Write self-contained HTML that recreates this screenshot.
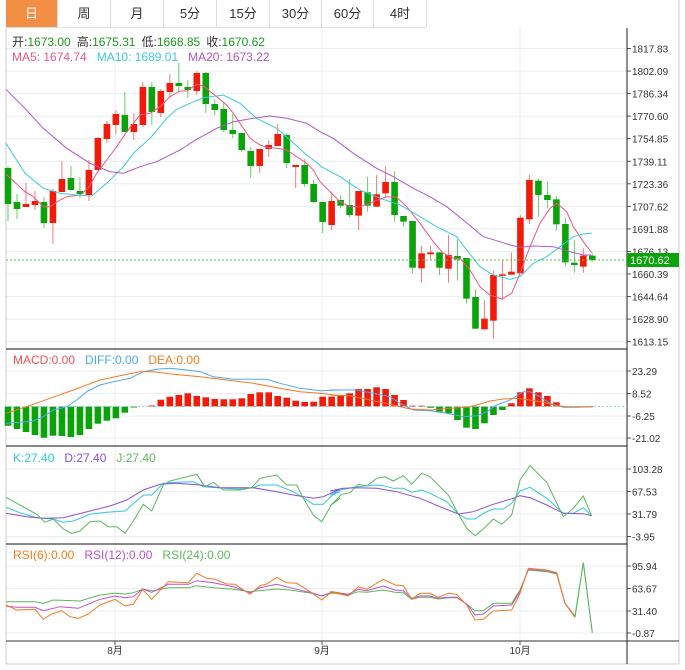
<!DOCTYPE html>
<html><head><meta charset="utf-8">
<style>
body{margin:0;background:#fff;font-family:"Liberation Sans","Noto Sans CJK SC",sans-serif;}
#w{position:relative;width:685px;height:670px;overflow:hidden;}
.tabs{position:absolute;left:6px;top:0;height:27px;width:420px;border-bottom:1px solid #ddd;}
.tab{position:absolute;top:0;height:27px;line-height:27px;text-align:center;font-size:13px;color:#333;border-right:1px solid #ddd;}
</style></head><body><div id="w">
<div class="tabs">
<div class="tab" style="left:0;width:51px;background:#f38f45;color:#fff">日</div>
<div class="tab" style="left:52px;width:52px">周</div>
<div class="tab" style="left:105px;width:52px">月</div>
<div class="tab" style="left:158px;width:52px">5分</div>
<div class="tab" style="left:211px;width:52px">15分</div>
<div class="tab" style="left:264px;width:51px">30分</div>
<div class="tab" style="left:316px;width:51px">60分</div>
<div class="tab" style="left:368px;width:52px">4时</div>
</div>
<svg id="s" width="685" height="670" style="position:absolute;left:0;top:0" font-family="Liberation Sans, Noto Sans CJK SC, sans-serif"></svg>
</div>
<script>
const S=document.getElementById('s');let h='';
function L(x1,y1,x2,y2,c,w,d){h+=`<line x1="${x1}" y1="${y1}" x2="${x2}" y2="${y2}" stroke="${c}" stroke-width="${w||1}" ${d?'stroke-dasharray="'+d+'"':''}/>`;}
function T(x,y,t,c,s,a){h+=`<text x="${x}" y="${y}" fill="${c}" font-size="${s||11}" ${a?'text-anchor="'+a+'"':''}>${t}</text>`;}
function P(pts,c,w){h+=`<polyline points="${pts.map(p=>p[0].toFixed(1)+','+p[1].toFixed(1)).join(' ')}" fill="none" stroke="${c}" stroke-width="${w||1}"/>`;}
function Z(a,ox,oy){const r=[];for(let i=0;i<a.length;i+=2)r.push([ox+a[i]/3,oy+a[i+1]/3]);return r;}
const G='#e8eef2';
// grids main
const mt=[1817.83,1802.09,1786.34,1770.60,1754.85,1739.11,1723.36,1707.62,1691.88,1676.13,1660.39,1644.64,1628.90,1613.15];
mt.forEach((v,i)=>{const y=48.5+i*22.55;L(6,y,627,y,G);L(627,y,631,y,'#555');T(632,y+4,v.toFixed(2),'#333',10);});
[[23.29,371],[8.52,393.5],[-6.25,416],[-21.02,438]].forEach(a=>{L(6,a[1],627,a[1],G);L(627,a[1],631,a[1],'#555');T(632,a[1]+4,a[0].toFixed(2),'#333',10);});
[[103.28,469],[67.53,491.5],[31.79,514],[-3.95,536.5]].forEach(a=>{L(6,a[1],627,a[1],G);L(627,a[1],631,a[1],'#555');T(632,a[1]+4,a[0].toFixed(2),'#333',10);});
[[95.94,566],[63.67,588.5],[31.40,611],[-0.87,633]].forEach(a=>{L(6,a[1],627,a[1],G);L(627,a[1],631,a[1],'#555');T(632,a[1]+4,a[0].toFixed(2),'#333',10);});
[115,322,520].forEach(x=>L(x,28,x,641,G));
// borders
L(6,28,6,664,'#ccc');L(679,0,679,664,'#ccc');L(6,664,679,664,'#ccc');
L(627,28,627,664,'#222');
L(6,349,627,349,'#111');L(6,446,627,446,'#111');L(6,544,627,544,'#111');L(6,641,679,641,'#333');
[115,322,520].forEach(x=>L(x,641,x,645,'#555'));
T(115,654,'8月','#333',10,'middle');T(322,654,'9月','#333',10,'middle');T(520,654,'10月','#333',10,'middle');
// candles
const R='#f21a08',GR='#0aa30a';
const c1=[[168,204,166,221,0],[202,209,194,219,0],[204,207,183,207,1],[201,205,191,210,1],[202,223,197,228,0],[191,223,189,244,1],[179,192,161,192,1],[178,190,166,190,0],[191,194,177,198,0],[170,195,160,201,1],[138,170,137,170,1],[124,139,121,143,1],[114,125,110,134,1],[115,132,92,132,0],[124,132,113,140,1],[87,125,82,127,1],[87,112,82,125,0],[91,113,89,117,1],[83,92,74,98,1],[83,86,63,92,0],[87,90,80,98,0],[73,91,71,95,1],[73,104,72,113,0],[104,110,99,115,0],[109,130,102,132,0],[130,134,114,138,0],[133,150,133,152,0],[151,166,147,178,0],[149,166,149,173,1],[145,149,140,157,1],[134,146,124,146,1],[135,163,133,168,0],[165,167,165,188,1],[165,184,159,187,0],[184,202,180,203,0],[202,222,202,233,0]];
const c2=[[423,495,395,510,1],[420,437,405,445,0],[435,465,358,472,0],[393,467,393,510,1],[397,437,350,455,0],[403,440,345,440,1],[366,400,320,413,1],[366,465,335,485,0],[468,485,468,500,0],[483,623,483,640,0],[580,625,558,668,1],[577,583,557,600,1],[577,623,577,645,0],[585,626,525,668,1],[588,598,538,662,0],[594,716,594,730,0],[711,806,688,808,0],[776,808,720,808,1],[645,782,632,836,1],[643,647,600,720,1],[635,644,578,644,1],[473,640,465,640,1],[360,478,345,492,1],[362,405,355,470,0],[405,420,363,445,0],[418,493,408,512,0],[492,607,473,618,0],[608,615,540,638,0],[587,620,565,638,1],[587,600,580,605,0]].map(a=>[60+a[0]/3,60+a[1]/3,60+a[2]/3,60+a[3]/3,a[4]]);
const C=c1.concat(c2);
C.forEach((c,i)=>{const x=8+i*8.99;const col=c[4]?R:GR;L(x,c[2],x,c[3],c[4]?'#f77':'#6c6');h+=`<rect x="${x-3.3}" y="${c[0]}" width="6.6" height="${Math.max(1.5,c[1]-c[0])}" fill="${col}"/>`;});
// MAs
P(Z([18,342,75,395,100,410,130,440,150,440,180,420,200,410,240,405,265,385,290,340,320,300,350,260,380,215,420,165,450,160,480,140,510,110,540,93,560,93,590,73,610,78,650,110,680,135,700,160,720,190,750,235,780,255,800,262,830,265,860,270,890,290,920,310,940,330,960,365],0,60).concat(Z([0,365,30,395,60,425,90,440,120,440,160,425,200,410,230,412,260,440,300,490,340,545,370,580,400,595,420,595,450,630,480,680,510,705,545,717,575,700,600,640,630,560,660,490,690,445,710,430,740,455,760,500,790,545,815,578],320,60)),'#f0557f');
P(Z([18,250,75,340,130,385,180,400,230,405,275,408,320,370,370,320,400,280,450,235,500,175,530,148,570,130,610,113,670,105,720,130,770,175,830,205,870,240,920,285,960,315],0,60).concat(Z([0,318,60,350,120,390,180,415,240,435,300,470,350,500,410,530,440,570,480,620,520,645,570,658,600,650,640,610,680,590,720,560,760,530,790,522,815,520],320,60)),'#3cc8e0');
P(Z([18,88,70,140,130,205,200,265,270,310,330,335,370,340,420,320,470,305,540,270,590,238,650,205,700,185,760,175,810,168,860,175,920,190,960,215],0,60).concat(Z([0,215,40,235,100,280,170,325,220,350,280,385,330,410,380,440,430,480,490,530,540,545,570,555,600,562,640,558,700,560,750,575,790,585,815,585],320,60)),'#b255c8');
L(6,260,627,260,'#4c4',1,'2,2');
h+=`<rect x="627" y="253" width="52" height="14" fill="#0aa30a"/>`;T(630,264,'1670.62','#fff',11);
// MACD bars
const mb={0:425.7,1:429,2:432,3:435,4:437.7,5:435.7,6:436,7:437,8:435,9:429,10:423.7,11:420.7,12:418.3,13:412.7,14:407.5,16:405.5,17:399.7,18:396.7,19:395,20:393.3,21:396,22:397.3,23:399,24:399.3,25:399.3,26:398.3,27:394,28:392.3,29:392.3,30:396,31:397.7,32:400.7,33:402,34:401.7,35:396.7,36:396.7,37:395.7,38:393.3,39:389,40:389,41:387.3,42:389,43:395,44:400,45:405.7,46:405.7,47:407.8,48:411.7,49:413.3,50:420,51:427.7,52:429,53:423.3,54:415,55:410,56:403.3,57:392.3,58:388.3,59:392.3,60:396,61:402.3};
const z0=406.5;
for(const k in mb){const x=8+k*8.99,y=mb[k];const col=y>z0?GR:R;h+=`<rect x="${x-3.3}" y="${Math.min(y,z0)}" width="6.6" height="${Math.max(1,Math.abs(y-z0))}" fill="${col}"/>`;}
L(6,z0,627,z0,'#9cd',1,'2,2');
P(Z([18,235,60,232,100,228,130,215,160,195,200,185,230,165,260,140,300,120,340,110,390,100,430,80,470,73,510,70,560,75,600,80,640,95,700,103,760,103,800,103,840,115,900,130,960,137,1020,135],0,345).concat(Z([0,135,80,135,130,145,180,155,210,175,250,195,300,197,350,205,400,215,440,212,470,200,500,180,540,165,580,140,600,140,630,155,660,175,700,187,740,187,790,185],330,345)),'#4aa8f0');
P(Z([18,205,80,185,150,160,220,135,300,105,360,92,420,80,460,80,520,88,600,95,680,105,760,115,840,130,900,140,960,145,1020,152],0,345).concat(Z([0,150,60,152,120,165,180,178,240,192,300,195,360,190,410,187,440,180,480,168,520,162,560,160,600,165,640,172,680,182,720,185,790,185],330,345)),'#f57a20');
// KDJ
P(Z([18,187,60,203,110,218,160,222,190,232,220,228,270,208,320,202,375,198,430,150,455,150,490,115,520,112,580,110,610,125,670,130,720,132,760,128,780,120,830,120,880,140,910,158,940,178,970,178,1000,148,1020,140],0,445).concat(Z([0,150,30,135,80,125,140,120,160,122,190,130,220,130,245,142,275,135,300,145,350,170,385,207,410,222,435,222,460,205,490,192,520,192,545,175,570,138,600,127,650,160,700,205,730,205,760,188,785,212],330,445)),'#2ec8dc');
P(Z([18,205,80,215,130,220,190,218,270,198,330,183,380,165,430,135,480,118,530,115,600,120,660,128,760,128,830,140,880,150,940,160,970,155,1020,132],0,445).concat(Z([0,138,40,130,80,128,140,130,200,140,270,160,330,185,385,207,430,200,490,178,550,160,570,152,600,158,650,180,700,205,760,206,785,212],330,445)),'#8a50d0');
P(Z([18,157,110,208,135,232,160,222,190,252,215,265,240,258,270,230,300,228,325,245,350,245,375,265,400,228,430,178,455,198,490,120,510,108,590,88,615,125,640,112,670,135,720,135,755,128,780,100,830,90,860,120,890,120,910,160,940,210,965,230,995,178,1020,160],0,445).concat(Z([0,183,35,148,60,143,85,118,110,123,140,100,165,95,190,108,220,92,245,118,275,85,300,95,355,150,385,207,410,250,435,272,460,252,490,222,515,238,545,210,570,105,600,62,650,112,700,215,730,190,760,153,785,213],330,445)),'#5cb85c');
// RSI
P(Z([18,185,105,185,130,190,160,180,240,183,300,165,345,160,375,162,400,158,428,148,460,152,505,143,565,143,590,137,640,143,700,148,750,155,830,147,870,150,935,160,965,167,995,160,1020,160],0,540).concat(Z([0,158,55,165,85,155,110,157,160,150,195,157,220,158,245,178,270,172,300,172,325,177,355,173,380,173,410,192,435,212,460,212,490,190,545,190,570,150,595,90,650,95,680,102,705,190,735,228,760,68,787,278],330,540)),'#5cb85c');
P(Z([18,198,50,202,105,202,130,212,180,200,235,205,300,178,345,168,375,173,400,170,428,147,455,157,505,133,565,133,590,122,640,128,700,140,750,158,780,143,830,133,870,143,935,158,965,168,995,157,1020,160],0,540).concat(Z([0,155,55,163,85,148,110,152,160,138,195,150,220,152,245,175,270,168,300,168,325,175,355,172,380,172,410,192,435,225,460,222,490,198,545,195,570,155,595,88,650,92,680,100,705,190,735,230],330,540)),'#c050d0');
P(Z([18,195,50,210,105,208,130,238,155,222,185,212,210,230,235,235,265,222,300,195,345,178,375,198,400,193,428,148,455,178,505,125,565,128,590,100,620,115,645,118,680,132,705,133,750,163,780,137,800,132,830,112,860,128,890,130,935,158,965,180,995,155,1020,158],0,540).concat(Z([0,155,55,168,85,140,110,148,160,118,195,135,220,137,245,178,270,160,300,160,325,172,355,160,380,163,410,195,435,240,460,238,490,213,545,210,570,160,595,85,625,88,650,90,680,98,705,190,735,232],330,540)),'#f57a20');
P(Z([735,232,760,68,787,278],330,540),'#5cb85c');
// legends
h+=`<text x="12" y="46" font-size="12"><tspan fill="#333">开:</tspan><tspan fill="#1a9a1a">1673.00</tspan><tspan fill="#333" dx="6">高:</tspan><tspan fill="#1a9a1a">1675.31</tspan><tspan fill="#333" dx="6">低:</tspan><tspan fill="#1a9a1a">1668.85</tspan><tspan fill="#333" dx="6">收:</tspan><tspan fill="#1a9a1a">1670.62</tspan></text>`;
h+=`<text x="12" y="61" font-size="12"><tspan fill="#f0557f">MA5: 1674.74</tspan><tspan fill="#3cc8e0" dx="10">MA10: 1689.01</tspan><tspan fill="#b255c8" dx="10">MA20: 1673.22</tspan></text>`;
h+=`<text x="13" y="364" font-size="12"><tspan fill="#f05050">MACD:0.00</tspan><tspan fill="#4aa8f0" dx="10">DIFF:0.00</tspan><tspan fill="#f57a20" dx="10">DEA:0.00</tspan></text>`;
h+=`<text x="13" y="462" font-size="12"><tspan fill="#2ec8dc">K:27.40</tspan><tspan fill="#8a50d0" dx="10">D:27.40</tspan><tspan fill="#5cb85c" dx="10">J:27.40</tspan></text>`;
h+=`<text x="13" y="559" font-size="12"><tspan fill="#f57a20">RSI(6):0.00</tspan><tspan fill="#c050d0" dx="10">RSI(12):0.00</tspan><tspan fill="#5cb85c" dx="10">RSI(24):0.00</tspan></text>`;
S.innerHTML=h;
</script>
</body></html>
